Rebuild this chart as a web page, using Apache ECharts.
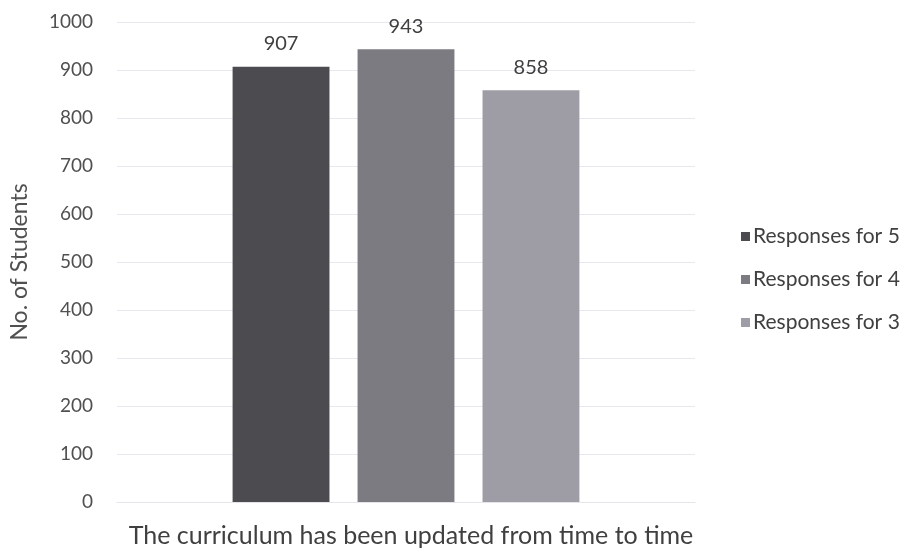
<!DOCTYPE html>
<html>
<head>
<meta charset="utf-8">
<script src="https://cdn.jsdelivr.net/npm/echarts@6/dist/echarts.min.js"></script>
<style>
  html, body { margin: 0; padding: 0; background: #fff; }
  #chart { width: 910px; height: 555px; }
</style>
</head>
<body>
<div id="chart"></div>
<script>
// data
const categories = ['The curriculum has been updated from time to time'];
const seriesNames = ['Responses for 5', 'Responses for 4', 'Responses for 3'];
const responses5 = [907];
const responses4 = [943];
const responses3 = [858];
const barColors = ['#4b4b50', '#7c7b82', '#9e9da5'];

const fontName = 'Lato';
var myChart = echarts.init(document.getElementById('chart'));

const seriesData = [responses5, responses4, responses3];
let series = [];
for (var i = 0; i < seriesNames.length; i++) {
	series.push({
		name: seriesNames[i],
		type: 'bar',
		data: seriesData[i],
		barGap: '29%',
		barCategoryGap: '40%',
		itemStyle: { color: barColors[i] },
		label: {
			show: true,
			position: 'top',
			distance: 13,
			color: '#404040',
			fontFamily: fontName,
			fontSize: 20
		}
	});
}

var option = {
	animation: false,
	backgroundColor: '#fff',
	grid: { left: 113, right: 215, top: 22, bottom: 53 },
	legend: {
		orient: 'vertical',
		left: 736,
		top: 221,
		itemWidth: 9,
		itemHeight: 9,
		itemGap: 22,
		icon: 'rect',
		textStyle: { color: '#404040', fontFamily: fontName, fontSize: 21, padding: [0, 0, 0, -2] },
		data: seriesNames
	},
	xAxis: {
		type: 'category',
		data: categories,
		axisLine: { lineStyle: { color: '#e4e4ea' } },
		axisTick: { show: false },
		axisLabel: {
			color: '#404040',
			fontFamily: fontName,
			fontSize: 25,
			margin: 21,
			padding: [0, 0, 0, 10]
		}
	},
	yAxis: {
		type: 'value',
		min: 0,
		max: 1000,
		interval: 100,
		name: 'No. of Students',
		nameLocation: 'middle',
		nameGap: 86,
		nameTextStyle: { color: '#505050', fontFamily: fontName, fontSize: 23 },
		axisLine: { show: false },
		axisTick: { show: false },
		axisLabel: {
			color: '#505050',
			fontFamily: fontName,
			fontSize: 19,
			margin: 24,
			formatter: (v) => String(v)
		},
		splitLine: { lineStyle: { color: '#e8e8ee' } }
	},
	series: series
};

myChart.setOption(option);
</script>
</body>
</html>
